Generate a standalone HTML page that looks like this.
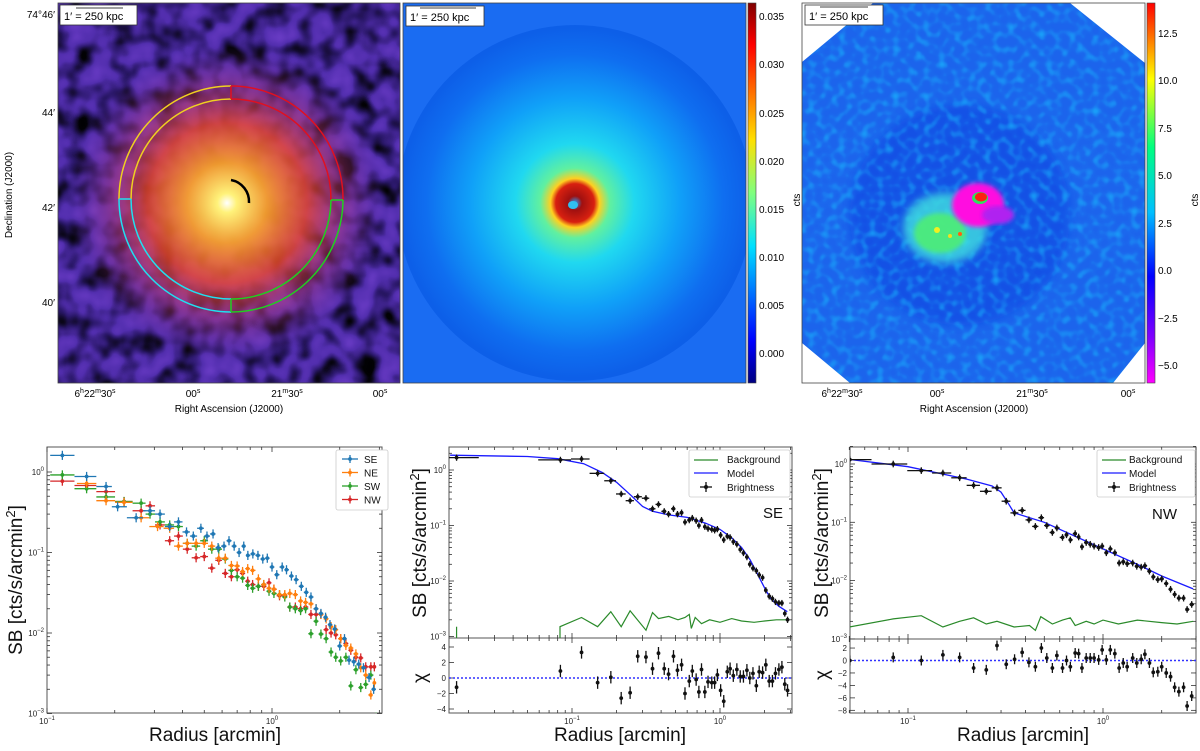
<!DOCTYPE html>
<html><head><meta charset="utf-8"><style>
html,body{margin:0;padding:0;background:#fff;}
svg text{font-family:"Liberation Sans","DejaVu Sans",sans-serif;}
</style></head>
<body>
<svg id="fig" xmlns="http://www.w3.org/2000/svg" width="1200" height="746" viewBox="0 0 1200 746">
<defs>
  <filter id="noise1" x="0" y="0" width="100%" height="100%" color-interpolation-filters="sRGB">
    <feTurbulence type="fractalNoise" baseFrequency="0.045" numOctaves="2" seed="3"/>
    <feColorMatrix type="matrix" values="1 0 0 0 0  1 0 0 0 0  1 0 0 0 0  0 0 0 0 1"/>
    <feComponentTransfer>
      <feFuncR type="table" tableValues="0 0.01 0.16 0.32 0.39 0.45"/>
      <feFuncG type="table" tableValues="0 0.01 0.09 0.18 0.22 0.27"/>
      <feFuncB type="table" tableValues="0 0.02 0.4 0.68 0.75 0.8"/>
      <feFuncA type="table" tableValues="1 1"/>
    </feComponentTransfer>
  </filter>
  <filter id="noise3" x="0" y="0" width="100%" height="100%" color-interpolation-filters="sRGB">
    <feTurbulence type="fractalNoise" baseFrequency="0.13" numOctaves="1" seed="7"/>
    <feColorMatrix type="matrix" values="0 0 0 0 0.1  0 0 0 0 0.75  0 0 0 0 1  1 0 0 0 0"/>
    <feComponentTransfer>
      <feFuncA type="table" tableValues="0 0 0 0.1 0.5 0.9 1"/>
    </feComponentTransfer>
  </filter>
  <filter id="blur4"><feGaussianBlur stdDeviation="4"/></filter>
  <filter id="blur2"><feGaussianBlur stdDeviation="2"/></filter>
  <radialGradient id="glow1" cx="227" cy="203" r="160" gradientUnits="userSpaceOnUse">
    <stop offset="0" stop-color="#ffffff" stop-opacity="1"/>
    <stop offset="0.06" stop-color="#fff27a" stop-opacity="1"/>
    <stop offset="0.25" stop-color="#f8a030" stop-opacity="0.95"/>
    <stop offset="0.5" stop-color="#f04a30" stop-opacity="0.8"/>
    <stop offset="0.72" stop-color="#c03a70" stop-opacity="0.45"/>
    <stop offset="1" stop-color="#6a30b0" stop-opacity="0"/>
  </radialGradient>
  <radialGradient id="glow2" cx="575" cy="203" r="175" gradientUnits="userSpaceOnUse">
    <stop offset="0" stop-color="#20a0ff"/>
    <stop offset="0.04" stop-color="#a01010"/>
    <stop offset="0.11" stop-color="#d82010"/>
    <stop offset="0.14" stop-color="#ffd020"/>
    <stop offset="0.2" stop-color="#60f0a0"/>
    <stop offset="0.34" stop-color="#20d8f0"/>
    <stop offset="0.6" stop-color="#10a0f8"/>
    <stop offset="0.85" stop-color="#0f6ef0"/>
    <stop offset="1" stop-color="#0d5fe8"/>
  </radialGradient>
  <linearGradient id="jet" x1="0" y1="1" x2="0" y2="0">
    <stop offset="0" stop-color="#00007f"/>
    <stop offset="0.11" stop-color="#0000ff"/>
    <stop offset="0.36" stop-color="#00e0ff"/>
    <stop offset="0.5" stop-color="#7fff7f"/>
    <stop offset="0.64" stop-color="#ffe000"/>
    <stop offset="0.89" stop-color="#ff0000"/>
    <stop offset="1" stop-color="#7f0000"/>
  </linearGradient>
  <linearGradient id="rainbow" x1="0" y1="1" x2="0" y2="0">
    <stop offset="0" stop-color="#ff00ff"/>
    <stop offset="0.12" stop-color="#8000ff"/>
    <stop offset="0.28" stop-color="#0000ff"/>
    <stop offset="0.45" stop-color="#00c0ff"/>
    <stop offset="0.62" stop-color="#00ff80"/>
    <stop offset="0.8" stop-color="#ffff00"/>
    <stop offset="0.9" stop-color="#ff8000"/>
    <stop offset="1" stop-color="#ff0000"/>
  </linearGradient>
  <clipPath id="c1"><rect x="58" y="3" width="342" height="380"/></clipPath>
  <clipPath id="c2"><rect x="403" y="3" width="343" height="380"/></clipPath>
  <clipPath id="c3"><polygon points="873,3 1070,3 1145,63 1145,343 1113,383 850,383 802,343 802,62"/></clipPath>
  <clipPath id="cpL"><rect x="47" y="447" width="335" height="266"/></clipPath>
  <clipPath id="cpM"><rect x="449" y="447" width="343" height="191"/></clipPath>
  <clipPath id="cpMc"><rect x="449" y="638" width="343" height="75"/></clipPath>
  <clipPath id="cpR"><rect x="850" y="447" width="346" height="192"/></clipPath>
  <clipPath id="cpRc"><rect x="850" y="639" width="346" height="74"/></clipPath>
</defs>

<!-- Panel 1: X-ray image -->
<g clip-path="url(#c1)">
  <rect x="58" y="3" width="342" height="380" filter="url(#noise1)"/>
  <rect x="58" y="3" width="342" height="380" fill="url(#glow1)"/>
</g>
<rect x="58" y="3" width="342" height="380" fill="none" stroke="#444" stroke-width="0.8"/>
<g fill="none" stroke-width="1.5">
  <path d="M231,86 A112,113 0 0,0 119,199" stroke="#f0d020"/>
  <path d="M231,99 A100,100 0 0,0 131,199" stroke="#f0d020"/>
  <path d="M231,86 A112,113 0 0,1 343,200" stroke="#e01020"/>
  <path d="M231,99 A100,100 0 0,1 331,200" stroke="#e01020"/>
  <path d="M343,200 A112,113 0 0,1 231,312" stroke="#20d020"/>
  <path d="M331,200 A100,100 0 0,1 231,299" stroke="#20d020"/>
  <path d="M119,199 A112,113 0 0,0 231,312" stroke="#20e0f0"/>
  <path d="M131,199 A100,100 0 0,0 231,299" stroke="#20e0f0"/>
  <line x1="231" y1="86" x2="231" y2="99" stroke="#e01020"/>
  <line x1="119" y1="199" x2="131" y2="199" stroke="#20e0f0"/>
  <line x1="331" y1="200" x2="343" y2="200" stroke="#20d020"/>
  <line x1="231" y1="299" x2="231" y2="312" stroke="#20d020"/>
  <path d="M231,180 A22,22 0 0,1 249,203" stroke="#000" stroke-width="2.5"/>
</g>
<g>
  <rect x="60" y="5" width="77" height="20" fill="#fff" stroke="#333" stroke-width="0.8"/>
  <line x1="76" y1="8" x2="123" y2="8" stroke="#000" stroke-width="0.8"/>
  <text x="64" y="20" font-size="11">1′ = 250 kpc</text>
</g>
<g font-size="10">
  <text x="55" y="18" text-anchor="end">74°46′</text>
  <text x="55" y="116" text-anchor="end">44′</text>
  <text x="55" y="211" text-anchor="end">42′</text>
  <text x="55" y="306" text-anchor="end">40′</text>
  <text x="95" y="397" text-anchor="middle">6<tspan font-size="7" dy="-4">h</tspan><tspan dy="4">22</tspan><tspan font-size="7" dy="-4">m</tspan><tspan dy="4">30</tspan><tspan font-size="7" dy="-4">s</tspan></text>
  <text x="193" y="397" text-anchor="middle">00<tspan font-size="7" dy="-4">s</tspan></text>
  <text x="287" y="397" text-anchor="middle">21<tspan font-size="7" dy="-4">m</tspan><tspan dy="4">30</tspan><tspan font-size="7" dy="-4">s</tspan></text>
  <text x="380" y="397" text-anchor="middle">00<tspan font-size="7" dy="-4">s</tspan></text>
  <text x="229" y="412" text-anchor="middle">Right Ascension (J2000)</text>
  <text x="12" y="195" text-anchor="middle" transform="rotate(-90 12 195)">Declination (J2000)</text>
</g>

<!-- Panel 2: model image -->
<g clip-path="url(#c2)">
  <rect x="403" y="3" width="343" height="380" fill="#1a6cf2"/>
  <circle cx="575" cy="203" r="178" fill="url(#glow2)"/>
  <ellipse cx="573" cy="205" rx="5" ry="4" fill="#30c0f0"/>
</g>
<rect x="403" y="3" width="343" height="380" fill="none" stroke="#444" stroke-width="0.8"/>
<g>
  <rect x="406" y="6" width="78" height="20" fill="#fff" stroke="#333" stroke-width="0.8"/>
  <line x1="420" y1="8" x2="476" y2="8" stroke="#000" stroke-width="0.8"/>
  <text x="410" y="21" font-size="11">1′ = 250 kpc</text>
</g>
<g>
  <rect x="748" y="3" width="8" height="380" fill="url(#jet)" stroke="#444" stroke-width="0.6"/>
  <g font-size="10">
    <text x="759" y="20">0.035</text><text x="759" y="68">0.030</text><text x="759" y="117">0.025</text>
    <text x="759" y="165">0.020</text><text x="759" y="213">0.015</text><text x="759" y="261">0.010</text>
    <text x="759" y="309">0.005</text><text x="759" y="357">0.000</text>
    <text x="800" y="200" text-anchor="middle" transform="rotate(-90 800 200)">cts</text>
  </g>
</g>

<!-- Panel 3: residual image -->
<rect x="802" y="3" width="343" height="380" fill="#fff"/>
<g clip-path="url(#c3)">
  <rect x="802" y="3" width="343" height="380" fill="#1c64ec"/>
  <circle cx="960" cy="215" r="110" fill="#1040e0" opacity="0.5" filter="url(#blur4)"/>
  <rect x="802" y="3" width="343" height="380" filter="url(#noise3)" opacity="0.7"/>
  <ellipse cx="945" cy="228" rx="42" ry="35" fill="#40e0e0" opacity="0.8" filter="url(#blur4)"/>
  <ellipse cx="940" cy="233" rx="26" ry="20" fill="#50f070" opacity="0.85" filter="url(#blur2)"/>
  <circle cx="937" cy="230" r="3" fill="#f0f020"/><circle cx="950" cy="236" r="2" fill="#f0e020"/><circle cx="960" cy="234" r="2" fill="#ff6010"/>
  <ellipse cx="978" cy="205" rx="26" ry="22" fill="#ff10e0" filter="url(#blur2)"/>
  <ellipse cx="998" cy="215" rx="16" ry="9" fill="#b020f0" filter="url(#blur2)"/>
  <ellipse cx="980" cy="198" rx="8" ry="6" fill="#30e060"/>
  <ellipse cx="981" cy="197" rx="6" ry="4.5" fill="#ff2010"/>
</g>
<rect x="802" y="3" width="343" height="380" fill="none" stroke="#444" stroke-width="0.8"/>
<g>
  <rect x="805" y="5" width="78" height="20" fill="#fff" stroke="#333" stroke-width="0.8"/>
  <line x1="820" y1="7" x2="868" y2="7" stroke="#000" stroke-width="0.8"/>
  <text x="809" y="20" font-size="11">1′ = 250 kpc</text>
</g>
<g>
  <rect x="1147" y="3" width="8" height="380" fill="url(#rainbow)" stroke="#444" stroke-width="0.6"/>
  <g font-size="10">
    <text x="1158" y="37">12.5</text><text x="1158" y="84">10.0</text><text x="1158" y="132">7.5</text>
    <text x="1158" y="179">5.0</text><text x="1158" y="227">2.5</text><text x="1158" y="274">0.0</text>
    <text x="1158" y="322">−2.5</text><text x="1158" y="369">−5.0</text>
    <text x="1198" y="200" text-anchor="middle" transform="rotate(-90 1198 200)">cts</text>
  </g>
</g>
<g font-size="10">
  <text x="842" y="397" text-anchor="middle">6<tspan font-size="7" dy="-4">h</tspan><tspan dy="4">22</tspan><tspan font-size="7" dy="-4">m</tspan><tspan dy="4">30</tspan><tspan font-size="7" dy="-4">s</tspan></text>
  <text x="937" y="397" text-anchor="middle">00<tspan font-size="7" dy="-4">s</tspan></text>
  <text x="1032" y="397" text-anchor="middle">21<tspan font-size="7" dy="-4">m</tspan><tspan dy="4">30</tspan><tspan font-size="7" dy="-4">s</tspan></text>
  <text x="1128" y="397" text-anchor="middle">00<tspan font-size="7" dy="-4">s</tspan></text>
  <text x="974" y="412" text-anchor="middle">Right Ascension (J2000)</text>
</g>

<g id="plots"></g>
</svg>

<script>
// ---------- Data: bottom-left (all sectors) ----------
const seR = [0.117,0.150,0.183,0.206,0.249,0.287,0.318,0.351,0.384,0.417,0.447,0.483,0.514,0.547,0.576,0.612,0.644,0.679,0.714,0.749,0.781,0.822,0.866,0.910,0.953,1.0,1.05,1.11,1.16,1.22,1.28,1.35,1.42,1.49,1.57,1.65,1.73,1.81,1.90,2.00,2.10,2.20,2.31,2.43,2.55,2.70,2.83];
const seSB = [1.61,0.88,0.66,0.37,0.27,0.33,0.30,0.21,0.24,0.18,0.16,0.20,0.16,0.17,0.115,0.12,0.14,0.12,0.10,0.12,0.092,0.096,0.092,0.083,0.085,0.066,0.053,0.066,0.061,0.051,0.046,0.038,0.032,0.028,0.020,0.0175,0.0157,0.0127,0.0112,0.0069,0.0085,0.0046,0.0044,0.0041,0.0037,0.0028,0.0020];
const neR = [0.150,0.183,0.220,0.262,0.310,0.351,0.384,0.420,0.460,0.500,0.540,0.580,0.620,0.660,0.700,0.740,0.780,0.820,0.870,0.920,0.970,1.02,1.08,1.14,1.20,1.27,1.34,1.41,1.49,1.57,1.65,1.74,1.83,1.92,2.02,2.13,2.24,2.36,2.48,2.61,2.75,2.85];
const neSB = [0.72,0.44,0.42,0.27,0.21,0.20,0.12,0.13,0.13,0.13,0.12,0.085,0.085,0.069,0.068,0.058,0.063,0.060,0.047,0.040,0.036,0.035,0.030,0.030,0.031,0.030,0.025,0.024,0.023,0.020,0.017,0.015,0.012,0.011,0.0085,0.0070,0.0065,0.0055,0.0037,0.0030,0.0017,0.0024];
const swR = [0.117,0.150,0.183,0.220,0.262,0.287,0.318,0.351,0.384,0.420,0.460,0.500,0.540,0.580,0.620,0.660,0.700,0.740,0.780,0.820,0.870,0.920,0.970,1.02,1.08,1.14,1.20,1.27,1.34,1.41,1.49,1.57,1.65,1.74,1.83,1.92,2.02,2.13,2.24,2.36,2.48,2.61,2.75,2.90];
const swSB = [0.92,0.62,0.49,0.43,0.41,0.30,0.24,0.22,0.21,0.13,0.12,0.14,0.11,0.11,0.083,0.060,0.050,0.048,0.039,0.036,0.038,0.040,0.033,0.031,0.030,0.028,0.021,0.020,0.019,0.020,0.0098,0.014,0.0097,0.0085,0.0058,0.0050,0.0045,0.0050,0.0022,0.0035,0.0021,0.0023,0.0030,0.0009];
const nwR = [0.117,0.150,0.183,0.220,0.262,0.287,0.318,0.351,0.384,0.420,0.460,0.500,0.540,0.580,0.620,0.660,0.700,0.740,0.780,0.820,0.870,0.920,0.970,1.02,1.08,1.14,1.20,1.27,1.34,1.41,1.49,1.57,1.65,1.74,1.83,1.92,2.02,2.13,2.24,2.36,2.48,2.61,2.75,2.85];
const nwSB = [0.77,0.68,0.57,0.43,0.33,0.38,0.22,0.14,0.16,0.11,0.086,0.089,0.064,0.080,0.055,0.050,0.061,0.055,0.044,0.040,0.038,0.038,0.042,0.035,0.029,0.029,0.021,0.021,0.020,0.021,0.017,0.017,0.017,0.011,0.010,0.0095,0.0085,0.0074,0.0061,0.0050,0.0049,0.0038,0.0038,0.0038];
const sectorNames = ["SE","NE","SW","NW"];

// ---------- Data: SE fit ----------
const seFitR = [0.0166,0.0835,0.116,0.149,0.183,0.215,0.247,0.278,0.316,0.35,0.384,0.42,0.449,0.485,0.516,0.55,0.58,0.62,0.65,0.69,0.72,0.75,0.79,0.83,0.88,0.92,0.96,1.01,1.06,1.12,1.17,1.23,1.30,1.37,1.44,1.52,1.59,1.67,1.76,1.84,1.94,2.04,2.15,2.26,2.37,2.50,2.62,2.74,2.86];
const seFitSB = [1.67,1.52,1.58,0.87,0.64,0.37,0.28,0.33,0.31,0.20,0.24,0.18,0.16,0.20,0.16,0.17,0.115,0.125,0.136,0.122,0.10,0.125,0.095,0.088,0.085,0.082,0.086,0.067,0.055,0.064,0.061,0.051,0.046,0.037,0.032,0.027,0.020,0.017,0.0153,0.0128,0.0115,0.0068,0.0053,0.0048,0.0042,0.0040,0.0040,0.0026,0.0020];
const seChi = [-1.2,0.9,3.3,-0.6,0.1,-2.6,-1.9,2.8,2.7,1.2,3.2,1.2,0.5,2.8,1.0,1.7,-2.0,-0.4,0.9,-0.2,-1.8,1.1,-1.8,-0.5,-0.6,-0.6,0.4,-1.6,-3.0,0.8,1.2,0.3,1.1,0.2,0.2,1.0,0.0,0.6,-1.0,0.8,0.7,1.7,-0.4,-0.4,0.6,1.1,1.4,-0.8,-1.6];
const seModelR = [0.015,0.05,0.08,0.12,0.16,0.2,0.25,0.3,0.35,0.45,0.6,0.8,1.0,1.2,1.4,1.6,1.8,2.0,2.2,2.5,2.85];
const seModelSB = [1.85,1.75,1.6,1.3,0.9,0.6,0.35,0.22,0.18,0.155,0.14,0.11,0.085,0.06,0.04,0.024,0.013,0.0075,0.0048,0.0035,0.0028];
const seBgR = [0.083,0.083,0.116,0.149,0.183,0.215,0.247,0.316,0.35,0.384,0.45,0.52,0.58,0.62,0.64,0.68,0.75,0.85,1.0,1.2,1.4,1.7,2.0,2.4,2.86];
const seBgSB = [0.0009,0.0015,0.0022,0.0015,0.0028,0.0015,0.0029,0.0013,0.0027,0.0021,0.0023,0.0020,0.0022,0.0025,0.0014,0.0022,0.0017,0.0020,0.0018,0.0021,0.0019,0.0018,0.0019,0.0020,0.0020];

// ---------- Data: NW fit ----------
const nwFitR = [0.0503,0.084,0.117,0.151,0.184,0.217,0.252,0.286,0.319,0.352,0.385,0.417,0.45,0.483,0.515,0.55,0.58,0.62,0.65,0.68,0.72,0.75,0.78,0.82,0.86,0.90,0.95,0.99,1.04,1.09,1.15,1.21,1.27,1.33,1.42,1.49,1.57,1.64,1.73,1.81,1.91,2.0,2.11,2.22,2.33,2.45,2.59,2.70,2.85];
const nwFitSB = [1.19,1.0,0.77,0.70,0.58,0.43,0.34,0.39,0.23,0.145,0.16,0.11,0.085,0.12,0.088,0.067,0.08,0.055,0.061,0.05,0.064,0.056,0.038,0.045,0.042,0.039,0.037,0.039,0.030,0.035,0.030,0.020,0.021,0.0195,0.020,0.0176,0.017,0.018,0.0145,0.0116,0.0104,0.0107,0.0089,0.0071,0.0058,0.0050,0.0050,0.0032,0.0039];
const nwChi = [0,0.5,0,0.9,0.5,-1.2,-1.5,2.4,-0.6,0.2,1.3,-0.3,-1.0,2.0,0.4,-1.2,0.8,-1.2,0,-1.0,1.2,1.1,-1.2,0.4,0.4,0.4,0.1,1.7,0.1,1.7,1.1,-1.2,-0.4,-1.0,0.4,-0.4,0.2,1.0,-0.4,-1.9,-1.8,-1.0,-2.0,-2.6,-4.3,-5.0,-4.3,-7.3,-5.7];
const nwModelR = [0.05,0.1,0.2,0.27,0.3,0.33,0.35,0.5,1.0,1.5,2.0,2.9];
const nwModelSB = [1.2,0.9,0.55,0.42,0.33,0.2,0.145,0.1,0.035,0.019,0.012,0.0072];
const nwBgR = [0.05,0.084,0.117,0.151,0.184,0.217,0.252,0.286,0.35,0.42,0.45,0.48,0.55,0.62,0.68,0.72,0.82,0.9,1.0,1.2,1.5,2.0,2.4,2.9];
const nwBgSB = [0.0016,0.0022,0.0025,0.0016,0.0020,0.0023,0.0018,0.0020,0.0016,0.0017,0.0014,0.0024,0.0018,0.0021,0.0023,0.0017,0.0020,0.0018,0.0021,0.0018,0.0021,0.0019,0.0018,0.0020];

// ---------- helpers ----------
const NS = "http://www.w3.org/2000/svg";
const root = document.getElementById("plots");
function mk(tag, attrs, parent){
  const e = document.createElementNS(NS, tag);
  for (const k in attrs) e.setAttribute(k, attrs[k]);
  (parent || root).appendChild(e);
  return e;
}
const L10 = Math.log10;
function logAx(v0, p0, ppd, sign){ return v => p0 + sign*(L10(v)-L10(v0))*ppd; }
function linAx(v0, p0, ppu){ return v => p0 - (v - v0)*ppu; }

function frame(x0,y0,x1,y1,name){
  const r = mk("rect",{x:x0,y:y0,width:x1-x0,height:y1-y0,fill:"none",stroke:"#555","stroke-width":1});
  
  
}
function logTicksX(sx, xmin, xmax, y0, y1, labels){
  const g = mk("g",{});
  
  
  for (let d=-3; d<=1; d++) for (let m=1; m<10; m++){
    const v = m*Math.pow(10,d);
    if (v < xmin || v > xmax) continue;
    const x = sx(v), len = m===1?5:3;
    mk("line",{x1:x,y1:y1,x2:x,y2:y1-len,stroke:"#333","stroke-width":0.8},g);
    mk("line",{x1:x,y1:y0,x2:x,y2:y0+len,stroke:"#333","stroke-width":0.8},g);
    if (m===1 && labels){
      const t = mk("text",{x:x,y:y1+11,"font-size":8,"text-anchor":"middle",fill:"#222"},g);
      t.innerHTML = '10<tspan font-size="6" dy="-4">'+(d<0?'−'+(-d):d)+'</tspan>';
    }
  }
}
function logTicksY(sy, ymin, ymax, x0, x1){
  const g = mk("g",{});
  
  
  for (let d=-4; d<=1; d++) for (let m=1; m<10; m++){
    const v = m*Math.pow(10,d);
    if (v < ymin || v > ymax) continue;
    const y = sy(v), len = m===1?5:3;
    mk("line",{x1:x0,y1:y,x2:x0+len,y2:y,stroke:"#333","stroke-width":0.8},g);
    mk("line",{x1:x1,y1:y,x2:x1-len,y2:y,stroke:"#333","stroke-width":0.8},g);
    if (m===1){
      const t = mk("text",{x:x0-3,y:y+3,"font-size":8,"text-anchor":"end",fill:"#222"},g);
      t.innerHTML = '10<tspan font-size="6" dy="-4">'+(d<0?'−'+(-d):d)+'</tspan>';
    }
  }
}
function linTicksY(sy, vals, x0, x1){
  const g = mk("g",{});
  
  
  vals.forEach(v=>{
    const y = sy(v);
    mk("line",{x1:x0,y1:y,x2:x0+5,y2:y,stroke:"#333","stroke-width":0.8},g);
    mk("line",{x1:x1,y1:y,x2:x1-5,y2:y,stroke:"#333","stroke-width":0.8},g);
    const t = mk("text",{x:x0-3,y:y+3,"font-size":8,"text-anchor":"end",fill:"#222"},g);
    t.textContent = v<0 ? '−'+(-v) : String(v);
  });
}
function errPoints(rs, vs, sx, sy, color, clip, name, mode){
  const g = mk("g",{"clip-path":"url(#"+clip+")"});
  
  
  for (let i=0;i<rs.length;i++){
    const lr = L10(rs[i]);
    let lp = i>0 ? (lr+L10(rs[i-1]))/2 : lr-(L10(rs[1])-lr)/2;
    let ln = i<rs.length-1 ? (lr+L10(rs[i+1]))/2 : lr+(lr-L10(rs[i-1]))/2;
    lp = Math.max(lp, lr-0.15); ln = Math.min(ln, lr+0.15);
    const x = sx(rs[i]), y = sy(vs[i]);
    const xa = sx(Math.pow(10,lp)), xb = sx(Math.pow(10,ln));
    let ya, yb;
    if (mode==="chi"){ ya = sy(vs[i]+0.8); yb = sy(vs[i]-0.8); }
    else { ya = sy(vs[i]*1.14); yb = sy(vs[i]/1.14);
      mk("line",{x1:xa,y1:y,x2:xb,y2:y,stroke:color,"stroke-width":1.3},g); }
    mk("line",{x1:x,y1:ya,x2:x,y2:yb,stroke:color,"stroke-width":1.3},g);
    const c = mk("circle",{cx:x,cy:y,r:1.9,fill:color},g);
    
    
  }
}
function polyline(rs, vs, sx, sy, color, clip, name, w){
  const pts = rs.map((r,i)=>sx(r).toFixed(1)+","+sy(vs[i]).toFixed(1)).join(" ");
  const p = mk("polyline",{points:pts,fill:"none",stroke:color,"stroke-width":w||1.2,"clip-path":"url(#"+clip+")"});
  
  
}
function text(x,y,s,size,attrs,name){
  const t = mk("text",Object.assign({x:x,y:y,"font-size":size,fill:"#111"},attrs||{}));
  t.innerHTML = s;
  
  
  return t;
}

// ---------- Bottom-left plot ----------
{
  const sx = logAx(0.1, 47, 225, 1), sy = logAx(1, 472, 80.5, -1);
  frame(47,447,382,713,'sb-all-sectors-axes');
  logTicksX(sx, 0.1, 3.08, 447, 713, true);
  logTicksY(sy, 0.001, 1.6, 47, 382);
  const cols = ["#1f77b4","#ff7f0e","#2ca02c","#d62728"];
  const Rs = [seR,neR,swR,nwR], Vs=[seSB,neSB,swSB,nwSB];
  for (let k=3;k>=0;k--) errPoints(Rs[k], Vs[k], sx, sy, cols[k], "cpL", "series-"+sectorNames[k].toLowerCase());
  const lg = mk("g",{});
  
  
  mk("rect",{x:336,y:450,width:52,height:60,fill:"#fff",stroke:"#ccc","stroke-width":0.8,rx:2},lg);
  sectorNames.forEach((n,k)=>{
    const y = 459 + k*13.5;
    mk("line",{x1:342,y1:y,x2:358,y2:y,stroke:cols[k],"stroke-width":1.3},lg);
    mk("line",{x1:350,y1:y-4,x2:350,y2:y+4,stroke:cols[k],"stroke-width":1.3},lg);
    mk("circle",{cx:350,cy:y,r:1.9,fill:cols[k]},lg);
    const t = mk("text",{x:364,y:y+4,"font-size":10,fill:"#111"},lg);
    t.textContent = n;
    
    
  });
  text(215,741,"Radius [arcmin]",19,{"text-anchor":"middle"},'x-axis-title-left');
  text(22,580,'SB [cts/s/arcmin<tspan font-size="13" dy="-7">2</tspan><tspan dy="7">]</tspan>',19,{"text-anchor":"middle",transform:"rotate(-90 22 580)"},'y-axis-title-left');
}

// ---------- Bottom-middle plot (SE) ----------
{
  const sx = logAx(0.1, 572, 148, 1), sy = logAx(1, 470, 55.5, -1), sc = linAx(0, 678, 7.75);
  frame(449,447,792,638,'sb-se-axes');
  frame(449,638,792,713,'chi-se-axes');
  logTicksX(sx, 0.0148, 3.06, 447, 638, false);
  logTicksX(sx, 0.0148, 3.06, 638, 713, true);
  logTicksY(sy, 0.00095, 2.5, 449, 792);
  linTicksY(sc, [4,2,0,-2,-4], 449, 792);
  polyline(seBgR, seBgSB, sx, sy, "#2a8a2a", "cpM", "background-line-se", 1.2);
  mk("line",{x1:sx(0.0166),y1:638,x2:sx(0.0166),y2:sy(0.0015),stroke:"#2a8a2a","stroke-width":1.2});
  polyline(seModelR, seModelSB, sx, sy, "#1a1aff", "cpM", "model-line-se", 1.3);
  errPoints(seFitR, seFitSB, sx, sy, "#111", "cpM", "brightness-se");
  const z = mk("line",{x1:449,y1:sc(0),x2:792,y2:sc(0),stroke:"#3030ff","stroke-width":1.5,"stroke-dasharray":"2,2"});
  
  
  errPoints(seFitR, seChi, sx, sc, "#111", "cpMc", "chi-se", "chi");
  const lg = mk("g",{});
  
  
  mk("rect",{x:689,y:450,width:101,height:47,fill:"#fff",stroke:"#ccc","stroke-width":0.8,rx:2},lg);
  mk("line",{x1:694,y1:460,x2:718,y2:460,stroke:"#2a8a2a","stroke-width":1.2},lg);
  mk("line",{x1:694,y1:473,x2:718,y2:473,stroke:"#1a1aff","stroke-width":1.3},lg);
  mk("line",{x1:700,y1:487,x2:712,y2:487,stroke:"#111","stroke-width":1.3},lg);
  mk("line",{x1:706,y1:482,x2:706,y2:492,stroke:"#111","stroke-width":1.3},lg);
  mk("circle",{cx:706,cy:487,r:2,fill:"#111"},lg);
  [["Background",463],["Model",477],["Brightness",491]].forEach(([s,y])=>{
    const t = mk("text",{x:727,y:y,"font-size":10,fill:"#111"},lg); t.textContent = s;
  });
  text(763,518,"SE",15,{},'sector-label-se');
  text(620,741,"Radius [arcmin]",19,{"text-anchor":"middle"},'x-axis-title-mid');
  text(426,543,'SB [cts/s/arcmin<tspan font-size="13" dy="-7">2</tspan><tspan dy="7">]</tspan>',19,{"text-anchor":"middle",transform:"rotate(-90 426 543)"},'y-axis-title-mid');
  text(426,678,'χ',19,{"text-anchor":"middle",transform:"rotate(-90 426 678)"},'chi-axis-title-mid');
}

// ---------- Bottom-right plot (NW) ----------
{
  const sx = logAx(0.1, 908, 195, 1), sy = logAx(1, 464, 58.3, -1), sc = linAx(0, 660.5, 6.23);
  frame(850,447,1196,639,'sb-nw-axes');
  frame(850,639,1196,713,'chi-nw-axes');
  logTicksX(sx, 0.05, 3.0, 447, 639, false);
  logTicksX(sx, 0.05, 3.0, 639, 713, true);
  logTicksY(sy, 0.001, 2.0, 850, 1196);
  linTicksY(sc, [2,0,-2,-4,-6,-8], 850, 1196);
  polyline(nwBgR, nwBgSB, sx, sy, "#2a8a2a", "cpR", "background-line-nw", 1.2);
  polyline(nwModelR, nwModelSB, sx, sy, "#1a1aff", "cpR", "model-line-nw", 1.3);
  errPoints(nwFitR, nwFitSB, sx, sy, "#111", "cpR", "brightness-nw");
  const z = mk("line",{x1:850,y1:sc(0),x2:1196,y2:sc(0),stroke:"#3030ff","stroke-width":1.5,"stroke-dasharray":"2,2"});
  
  
  errPoints(nwFitR, nwChi, sx, sc, "#111", "cpRc", "chi-nw", "chi");
  const lg = mk("g",{});
  
  
  mk("rect",{x:1097,y:450,width:98,height:47,fill:"#fff",stroke:"#ccc","stroke-width":0.8,rx:2},lg);
  mk("line",{x1:1102,y1:460,x2:1126,y2:460,stroke:"#2a8a2a","stroke-width":1.2},lg);
  mk("line",{x1:1102,y1:473,x2:1126,y2:473,stroke:"#1a1aff","stroke-width":1.3},lg);
  mk("line",{x1:1108,y1:487,x2:1120,y2:487,stroke:"#111","stroke-width":1.3},lg);
  mk("line",{x1:1114,y1:482,x2:1114,y2:492,stroke:"#111","stroke-width":1.3},lg);
  mk("circle",{cx:1114,cy:487,r:2,fill:"#111"},lg);
  [["Background",463],["Model",477],["Brightness",491]].forEach(([s,y])=>{
    const t = mk("text",{x:1129,y:y,"font-size":10,fill:"#111"},lg); t.textContent = s;
  });
  text(1152,519,"NW",15,{},'sector-label-nw');
  text(1023,741,"Radius [arcmin]",19,{"text-anchor":"middle"},'x-axis-title-right');
  text(828,543,'SB [cts/s/arcmin<tspan font-size="13" dy="-7">2</tspan><tspan dy="7">]</tspan>',19,{"text-anchor":"middle",transform:"rotate(-90 828 543)"},'y-axis-title-right');
  text(828,675,'χ',19,{"text-anchor":"middle",transform:"rotate(-90 828 675)"},'chi-axis-title-right');
}
</script>
</body></html>
